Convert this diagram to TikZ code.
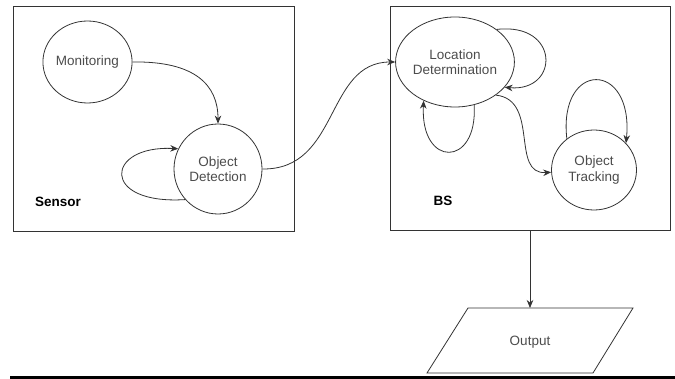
\documentclass[tikz,border=0pt]{standalone}
\usepackage{fontspec}
\setmainfont{Liberation Sans}
\usetikzlibrary{shapes.geometric,arrows.meta}
\definecolor{ln}{gray}{0.2}
\definecolor{tx}{gray}{0.3}
\tikzset{
  state/.style={ellipse,draw=ln,line width=0.8pt,inner sep=0pt,align=center,
     text=tx,font=\fontsize{13.5}{15.5}\selectfont},
  region/.style={rectangle,draw=ln,line width=0.8pt,inner sep=0pt},
  lbl/.style={text=black,font=\bfseries\fontsize{13.5}{15}\selectfont,inner sep=0pt},
  conn/.style={draw=ln,line width=0.8pt,-{Stealth[length=8pt,width=6.5pt]}},
}
\begin{document}
\begin{tikzpicture}[x=1pt,y=-1pt]
\useasboundingbox (0,0) rectangle (675,379);
% regions
\node[region,minimum width=281pt,minimum height=225pt] (sensor) at (153.5,118.5) {};
\node[region,minimum width=280pt,minimum height=224pt] (bs) at (530,118) {};
\node[lbl] (sensorlbl) at (58,202) {Sensor};
\node[lbl] (bslbl) at (443,201) {BS};
% states
\node[state,minimum width=86pt,minimum height=82pt] (mon) at (87.5,62) {Monitoring};
\node[state,minimum width=88pt,minimum height=90pt] (od) at (218,169) {Object\\Detection};
\node[state,minimum width=98pt,minimum height=90pt] (ld) at (455,62) {Location\\Determination};
\node[state,minimum width=85pt,minimum height=80pt] (ot) at (594,170) {Object\\Tracking};
% output
\draw[ln,line width=0.8pt] (468,308) -- (633,308) -- (593,373) -- (427,373) -- cycle;
\coordinate (outtop) at (530,308);
\node[text=tx,font=\fontsize{13.5}{15.5}\selectfont] (out) at (530,342) {Output};
% connectors
\draw[conn] (mon.east) .. controls (195,61) and (218,85) .. (od.north);
\draw[conn] (od.223) .. controls (100,205) and (105,145) .. (od.153);
\draw[conn] (od.east) .. controls (340,170) and (325,62) .. (ld.west);
\draw[conn] (ld.38) .. controls (560,22) and (560,92) .. (ld.333);
\draw[conn] (ld.294) .. controls (478,168) and (420,168) .. (ld.231);
\draw[conn] (ld.321) .. controls (540,100) and (510,175) .. (ot.183);
\draw[conn] (ot.131) .. controls (558,60) and (634,60) .. (ot.40);
\draw[conn] (bs.south) -- (outtop);
% bottom rule
\fill[black] (10,376) rectangle (675,379);
\end{tikzpicture}
\end{document}
